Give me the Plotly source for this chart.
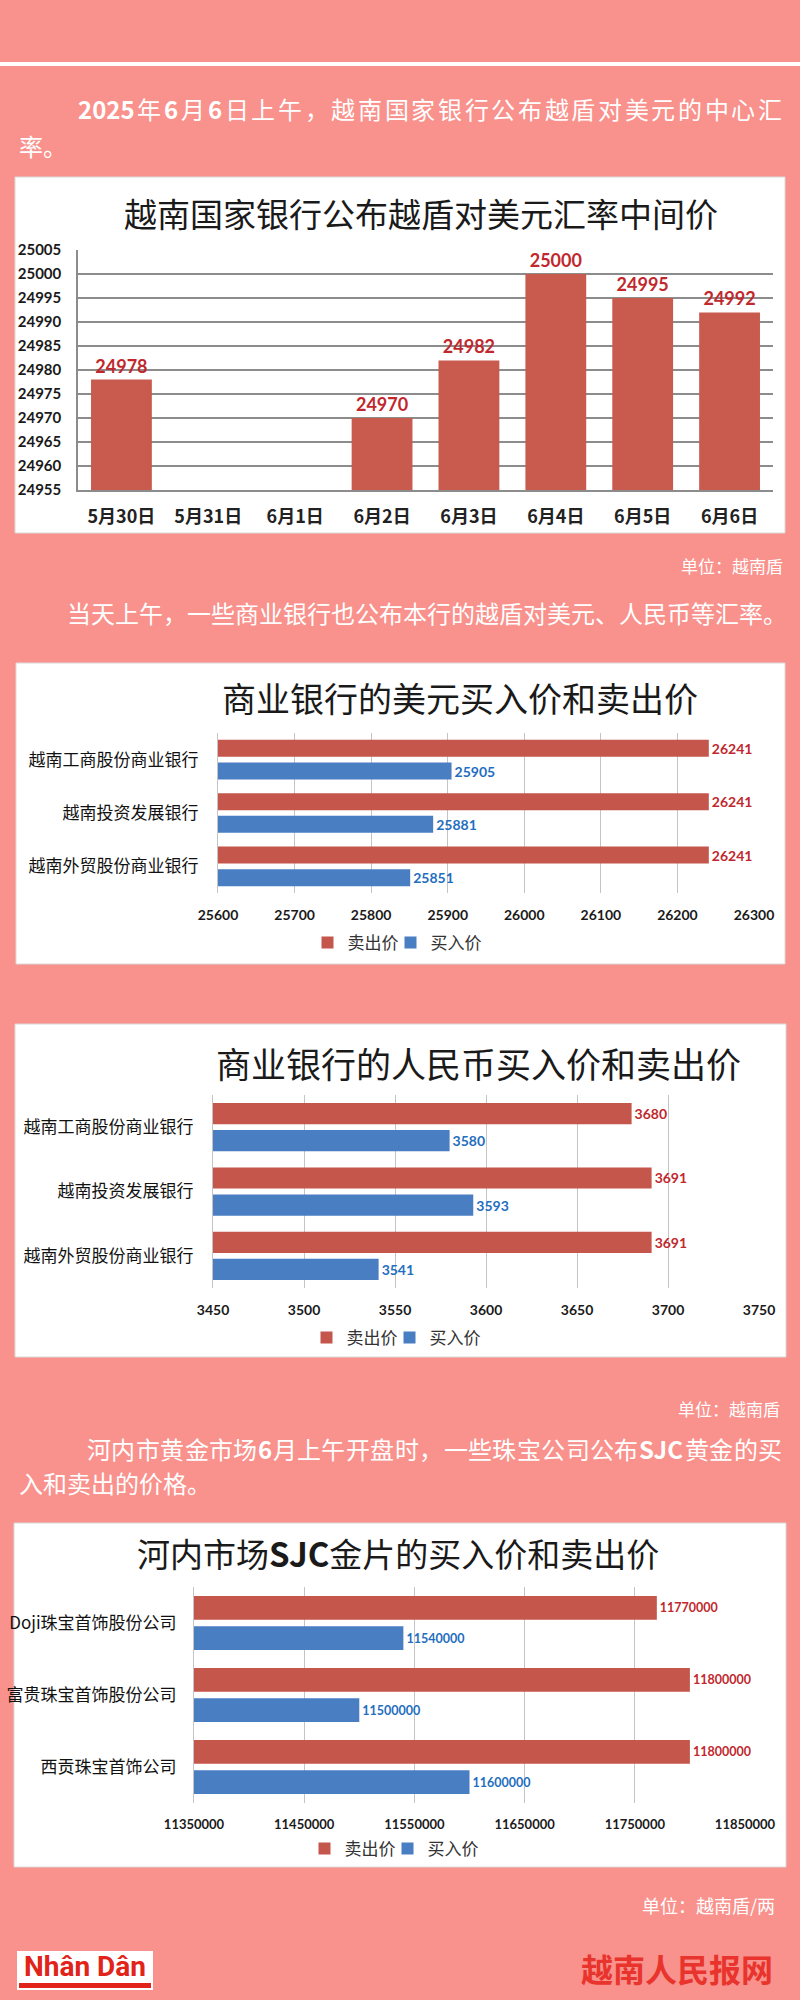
import plotly.graph_objects as go

W, H = 800, 2000
BG = "#F9918C"
RED = "#C5564C"
BLUE = "#4A7EC3"
RED_TXT = "#C0282D"
BLUE_TXT = "#1F6EC0"
CJK = "Noto Sans CJK SC"
NUM = "Lato"

# ---------------- data ----------------
dates = ["5月30日", "5月31日", "6月1日", "6月2日", "6月3日", "6月4日", "6月5日", "6月6日"]
mid_rate = [24978, None, None, 24970, 24982, 25000, 24995, 24992]

banks = ["越南工商股份商业银行", "越南投资发展银行", "越南外贸股份商业银行"]
usd_sell = [26241, 26241, 26241]
usd_buy = [25905, 25881, 25851]
cny_sell = [3680, 3691, 3691]
cny_buy = [3580, 3593, 3541]

gold_firms = ["Doji珠宝首饰股份公司", "富贵珠宝首饰股份公司", "西贡珠宝首饰公司"]
gold_sell = [11770000, 11800000, 11800000]
gold_buy = [11540000, 11500000, 11600000]

series_names = ["卖出价", "买入价"]


def px(x):
    return x / W


def py(y):
    return 1 - y / H


def txt(vals):
    return [None if v is None else str(v) for v in vals]


fig = go.Figure()

# ---------------- chart 1 ----------------
fig.add_trace(go.Bar(
    x=dates, y=mid_rate, text=txt(mid_rate), textposition="outside",
    marker=dict(color="#C85A4E", line=dict(width=0)), width=0.7,
    outsidetextfont=dict(family=NUM, size=18, color=RED_TXT, weight="bold"),
    constraintext="none", cliponaxis=False, showlegend=False,
    xaxis="x", yaxis="y", hoverinfo="x+y"))

# ---------------- charts 2-4 ----------------
hbar_specs = [
    (banks, usd_sell, usd_buy, "x2", "y2", "legend", 14, 0.32, 0.105),
    (banks, cny_sell, cny_buy, "x3", "y3", "legend2", 14, 0.33, 0.09),
    (gold_firms, gold_sell, gold_buy, "x4", "y4", "legend3", 12.5, 0.33, 0.09),
]
for cats, sell, buy, xa, ya, lg, fs, bw, gap in hbar_specs:
    fig.add_trace(go.Bar(
        y=cats, x=sell, orientation="h", name=series_names[0],
        marker=dict(color=RED, line=dict(width=0)),
        width=bw, offset=-(bw + gap / 2),
        text=txt(sell), textposition="outside",
        outsidetextfont=dict(family=NUM, size=fs, color=RED_TXT, weight="bold"),
        constraintext="none", cliponaxis=False, legendwidth=38,
        xaxis=xa, yaxis=ya, legend=lg))
    fig.add_trace(go.Bar(
        y=cats, x=buy, orientation="h", name=series_names[1],
        marker=dict(color=BLUE, line=dict(width=0)),
        width=bw, offset=gap / 2,
        text=txt(buy), textposition="outside",
        outsidetextfont=dict(family=NUM, size=fs, color=BLUE_TXT, weight="bold"),
        constraintext="none", cliponaxis=False,
        xaxis=xa, yaxis=ya, legend=lg))

# ---------------- axes ----------------
G1 = "#8C8C8C"
G2 = "#C4C4C4"
layout_axes = dict(
    xaxis=dict(domain=[px(78), px(773)], anchor="y", type="category",
               categoryorder="array", categoryarray=dates, range=[-0.5, 7.5],
               showgrid=False, showline=True, linecolor=G1, linewidth=1.5,
               ticks="", ticklabelstandoff=10, automargin=False,
               tickfont=dict(family=CJK, size=18, color="#222", weight="bold")),
    yaxis=dict(domain=[py(490), py(250)], anchor="x", range=[24955, 25005],
               tick0=24955, dtick=5, tickformat="d", automargin=False,
               showgrid=True, gridcolor=G1, gridwidth=1.5, zeroline=False,
               showline=True, linecolor=G1, linewidth=1.5,
               ticks="", ticklabelstandoff=12,
               tickfont=dict(family=NUM, size=15, color="#1a1a1a", weight="bold")),
)
hax = [
    ("2", [218, 754], [733, 893], [25600, 26300], 100, 14, 15),
    ("3", [213, 759], [1095, 1288], [3450, 3750], 50, 14, 15),
    ("4", [194, 745], [1587, 1803], [11350000, 11850000], 100000, 13, 13),
]
for n, xd, yd, xr, dt, tfs, stand in hax:
    layout_axes["xaxis" + n] = dict(
        domain=[px(xd[0]), px(xd[1])], anchor="y" + n, range=xr, dtick=dt,
        tick0=xr[0], tickformat="d", showgrid=True, gridcolor=G2, gridwidth=1,
        zeroline=False, showline=False, ticks="", ticklabelstandoff=12,
        automargin=False,
        tickfont=dict(family=NUM, size=tfs, color="#1a1a1a", weight="bold"))
    layout_axes["yaxis" + n] = dict(
        domain=[py(yd[1]), py(yd[0])], anchor="x" + n, type="category",
        range=[2.5, -0.5], showgrid=False, showline=True, linecolor=G2,
        linewidth=1, ticks="", ticklabelstandoff=stand, automargin=False,
        tickfont=dict(family=CJK, size=17, color="#111"))

fig.update_layout(**layout_axes)

# ---------------- legends ----------------
def legend_cfg(xc, yc):
    return dict(orientation="h", x=px(xc), y=py(yc), xanchor="center",
                yanchor="middle", bgcolor="rgba(0,0,0,0)",
                font=dict(family=CJK, size=17, color="#333"),
                itemclick=False, itemdoubleclick=False, itemwidth=30)


fig.update_layout(legend=legend_cfg(397, 943), legend2=legend_cfg(396, 1338),
                  legend3=legend_cfg(394, 1849))

# ---------------- shapes ----------------
shapes = [
    dict(type="rect", xref="paper", yref="paper", x0=0, x1=1, y0=py(66), y1=py(62),
         fillcolor="white", line=dict(width=0), layer="below"),
]
for (x0, y0, x1, y1) in [(15, 177, 785, 533), (16, 663, 785, 964),
                         (15, 1024, 786, 1357), (14, 1523, 786, 1867)]:
    shapes.append(dict(type="rect", xref="paper", yref="paper",
                       x0=px(x0), x1=px(x1), y0=py(y1), y1=py(y0),
                       fillcolor="white", line=dict(color="#DADADA", width=1),
                       layer="below"))
# logo
shapes.append(dict(type="rect", xref="paper", yref="paper", x0=px(17), x1=px(153),
                   y0=py(1990), y1=py(1951), fillcolor="white", line=dict(width=0),
                   layer="below"))
shapes.append(dict(type="rect", xref="paper", yref="paper", x0=px(19), x1=px(151),
                   y0=py(1988), y1=py(1983), fillcolor="#E2231A", line=dict(width=0),
                   layer="above"))
fig.update_layout(shapes=shapes)

# ---------------- annotations ----------------
ann = []


def note(text, x, y, size, color="white", xanchor="left", family=CJK, weight="normal"):
    ann.append(dict(text=text, x=px(x), y=py(y), xref="paper", yref="paper",
                    xanchor=xanchor, yanchor="middle", showarrow=False,
                    borderpad=0,
                    font=dict(family=family, size=size, color=color, weight=weight)))


def justified(tokens, x0, x1, y, size):
    # tokens: (text, width_in_em); spread gaps so the line fills x0..x1
    natural = sum(w for _, w in tokens) * size
    extra = (x1 - x0 - natural) / (len(tokens) - 1)
    x = x0
    for t, w in tokens:
        note(t, x, y, size)
        x += w * size + extra


def cjk_tokens(s):
    return [(c, 1.0) for c in s]


SZ = 24
para1 = ([("<b>2025</b>", 2.36)] + cjk_tokens("年") + [("<b>6</b>", 0.6)] + cjk_tokens("月")
         + [("<b>6</b>", 0.6)] + cjk_tokens("日上午，越南国家银行公布越盾对美元的中心汇"))
justified(para1, 77, 781, 108, SZ)
note("率。", 18, 145, SZ)

note("单位：越南盾", 784, 565, 17, xanchor="right")
note("当天上午，一些商业银行也公布本行的越盾对美元、人民币等汇率。", 66, 612, SZ)

note("单位：越南盾", 781, 1408, 17, xanchor="right")
para3 = (cjk_tokens("河内市黄金市场") + [("<b>6</b>", 0.6)]
         + cjk_tokens("月上午开盘时，一些珠宝公司公布") + [("<b>SJC</b>", 1.9)]
         + cjk_tokens("黄金的买"))
justified(para3, 86, 781, 1448, SZ)
note("入和卖出的价格。", 18, 1482, SZ)

note("单位：越南盾/两", 776, 1905, 18, xanchor="right")

# chart titles
note("越南国家银行公布越盾对美元汇率中间价", 421, 213, 33, color="#1a1a1a", xanchor="center")
note("商业银行的美元买入价和卖出价", 460, 697, 34, color="#1a1a1a", xanchor="center")
note("商业银行的人民币买入价和卖出价", 478, 1062, 35, color="#1a1a1a", xanchor="center")
note("河内市场<b>SJC</b>金片的买入价和卖出价", 398, 1553, 33, color="#1a1a1a", xanchor="center")

# footer
note("Nhân Dân", 85, 1966, 28, color="#E2231A", xanchor="center",
     family="Roboto", weight="bold")
note("越南人民报网", 677, 1968, 32, color="#E8342C", xanchor="center", weight="bold")

fig.update_layout(annotations=ann)

fig.update_layout(
    width=W, height=H, margin=dict(l=0, r=0, t=0, b=0, pad=0, autoexpand=False),
    paper_bgcolor=BG, plot_bgcolor="rgba(0,0,0,0)",
    barmode="overlay", showlegend=True,
    font=dict(family=CJK, color="#222"),
)

fig.write_html("out.html", config={"displayModeBar": False},
               post_script="document.body.style.margin='0';")
